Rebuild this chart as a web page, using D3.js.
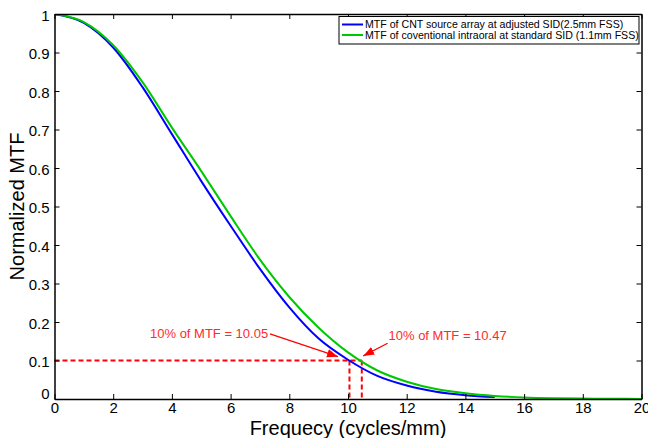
<!DOCTYPE html>
<html>
<head>
<meta charset="utf-8">
<script src="https://cdn.jsdelivr.net/npm/d3@7"></script>
<style>
  body { margin: 0; background: #fff; }
  svg { display: block; font-family: "Liberation Sans", Arial, sans-serif; }
</style>
</head>
<body>
<div id="chart"></div>
<script>
var width = 648, height = 438;
var margin = {left: 54.5, right: 6, top: 14, bottom: 39};

// frequency samples (cycles/mm)
var freqCNT = [0, 1, 2, 3, 4, 5, 6, 7, 8, 9, 10, 11, 12, 13, 14, 15];
var mtfCNT = [1.0, 0.977, 0.913, 0.81, 0.688, 0.566, 0.45, 0.338, 0.238, 0.157, 0.102, 0.06, 0.035, 0.019, 0.01, 0.005];

var freqConv = [0, 1, 2, 3, 4, 5, 6, 7, 8, 9, 10, 11, 12, 13, 14, 15, 16, 17, 18, 19, 20];
var mtfConv = [1.0, 0.979, 0.919, 0.823, 0.705, 0.592, 0.475, 0.362, 0.265, 0.185, 0.121, 0.074, 0.045, 0.026, 0.015, 0.008, 0.004, 0.002, 0.001, 0.0005, 0.0002];

var seriesNames = ["MTF of CNT source array at adjusted SID(2.5mm FSS)",
                   "MTF of coventional intraoral at standard SID (1.1mm FSS)"];
var seriesColors = ["#0000ff", "#00c800"];

var xTicks = [0, 2, 4, 6, 8, 10, 12, 14, 16, 18, 20];
var yTicks = [0, 0.1, 0.2, 0.3, 0.4, 0.5, 0.6, 0.7, 0.8, 0.9, 1];

// 10% crossing points
var crossFreq = [10.05, 10.47];
var crossLevel = 0.1;
var noteText = ["10% of MTF = 10.05", "10% of MTF = 10.47"];
// annotation arrows in data units: tail (x0,y0) -> tip (x1,y1), label anchor (tx,ty)
var noteArrows = [
    {x0: 7.34, y0: 0.169, x1: 9.66, y1: 0.110, tx: 7.28, ty: 0.171, anchor: "end"},
    {x0: 11.35, y0: 0.145, x1: 10.52, y1: 0.112, tx: 11.38, ty: 0.166, anchor: "start"}
];

var svg = d3.select("#chart").append("svg")
    .attr("width", width)
    .attr("height", height);

var x = d3.scaleLinear().domain([0, 20]).range([margin.left, width - margin.right - 0.5]);
var y = d3.scaleLinear().domain([0, 1]).range([height - margin.bottom, margin.top]);

svg.append("defs").append("clipPath").attr("id", "plotclip")
    .append("rect")
    .attr("x", x(0)).attr("y", y(1))
    .attr("width", x(20) - x(0)).attr("height", y(0) - y(1));

svg.append("defs").append("marker")
    .attr("id", "redhead")
    .attr("markerUnits", "userSpaceOnUse")
    .attr("markerWidth", 12).attr("markerHeight", 10)
    .attr("viewBox", "0 0 12 10")
    .attr("refX", 11).attr("refY", 5)
    .attr("orient", "auto")
    .append("path")
    .attr("d", "M0,0.8L11,5L0,9.2Z")
    .attr("fill", "#ff0000");

// dashed guide lines at 10% MTF
svg.append("line")
    .attr("x1", x(0)).attr("x2", x(crossFreq[1]))
    .attr("y1", y(crossLevel)).attr("y2", y(crossLevel))
    .attr("stroke", "#ff0000").attr("stroke-width", 2)
    .attr("stroke-dasharray", "5,3");
svg.selectAll(".vguide")
    .data(crossFreq)
    .enter().append("line")
    .attr("class", "vguide")
    .attr("x1", function (d) { return x(d); })
    .attr("x2", function (d) { return x(d); })
    .attr("y1", y(crossLevel)).attr("y2", y(0))
    .attr("stroke", "#ff0000").attr("stroke-width", 2)
    .attr("stroke-dasharray", "5,3");

var line = d3.line()
    .x(function (d) { return x(d[0]); })
    .y(function (d) { return y(d[1]); })
    .curve(d3.curveMonotoneX);

var curves = [
    d3.zip(freqCNT, mtfCNT),
    d3.zip(freqConv, mtfConv)
];

svg.append("g").attr("clip-path", "url(#plotclip)")
    .selectAll("path")
    .data(curves)
    .enter().append("path")
    .attr("d", line)
    .attr("fill", "none")
    .attr("stroke", function (d, i) { return seriesColors[i]; })
    .attr("stroke-width", 2);

// annotations
svg.selectAll(".arrow")
    .data(noteArrows)
    .enter().append("line")
    .attr("class", "arrow")
    .attr("x1", function (d) { return x(d.x0); })
    .attr("y1", function (d) { return y(d.y0); })
    .attr("x2", function (d) { return x(d.x1); })
    .attr("y2", function (d) { return y(d.y1); })
    .attr("stroke", "#ff0000").attr("stroke-width", 1.2)
    .attr("marker-end", "url(#redhead)");
svg.selectAll(".note")
    .data(noteArrows)
    .enter().append("text")
    .attr("class", "note")
    .attr("x", function (d) { return x(d.tx); })
    .attr("y", function (d) { return y(d.ty); })
    .attr("dy", "0.35em")
    .attr("text-anchor", function (d) { return d.anchor; })
    .style("font-size", "13px")
    .attr("fill", "#ff2a2a")
    .text(function (d, i) { return noteText[i]; });

// axes, MATLAB style box with inward ticks
var fmtY = function (d) { return d3.format("")(+d.toFixed(1)); };

var xAxis = svg.append("g")
    .attr("transform", "translate(0," + y(0) + ")")
    .call(d3.axisBottom(x).tickValues(xTicks).tickSizeInner(-5).tickSizeOuter(0).tickPadding(3));
var yAxis = svg.append("g")
    .attr("transform", "translate(" + x(0) + ",0)")
    .call(d3.axisLeft(y).tickValues(yTicks).tickSizeInner(-5).tickSizeOuter(0).tickPadding(5).tickFormat(fmtY));
var topAxis = svg.append("g")
    .attr("transform", "translate(0," + y(1) + ")")
    .call(d3.axisTop(x).tickValues(xTicks).tickSizeInner(-5).tickSizeOuter(0).tickFormat(""));
var rightAxis = svg.append("g")
    .attr("transform", "translate(" + x(20) + ",0)")
    .call(d3.axisRight(y).tickValues(yTicks).tickSizeInner(-5).tickSizeOuter(0).tickFormat(""));

[xAxis, yAxis, topAxis, rightAxis].forEach(function (g) {
    g.select(".domain").attr("stroke", "#000").attr("stroke-width", 1.5);
    g.selectAll(".tick line").attr("stroke", "#000").attr("stroke-width", 1);
    g.selectAll(".tick text")
        .attr("fill", "#000")
        .style("font-family", "'Liberation Sans', Arial, sans-serif")
        .style("font-size", "15px");
});
yAxis.selectAll(".tick text").attr("dy", function (d) { return d === 0 ? "-0.05em" : "0.4em"; });
xAxis.selectAll(".tick text").attr("dy", "0.71em");

// axis titles
svg.append("text")
    .attr("x", (x(0) + x(20)) / 2)
    .attr("y", height - 3)
    .attr("text-anchor", "middle")
    .style("font-size", "20px")
    .text("Frequecy (cycles/mm)");
svg.append("text")
    .attr("transform", "translate(24," + ((y(0) + y(1)) / 2) + ") rotate(-90)")
    .attr("text-anchor", "middle")
    .style("font-size", "20px")
    .text("Normalized MTF");

// legend
var legend = svg.append("g").attr("transform", "translate(339,16.5)");
legend.append("rect")
    .attr("width", 300).attr("height", 27.5)
    .attr("fill", "#fff").attr("stroke", "#000").attr("stroke-width", 1);
var items = legend.selectAll(".item")
    .data(seriesNames)
    .enter().append("g")
    .attr("class", "item")
    .attr("transform", function (d, i) { return "translate(0," + (8 + i * 10.5) + ")"; });
items.append("line")
    .attr("x1", 3).attr("x2", 24)
    .attr("stroke", function (d, i) { return seriesColors[i]; })
    .attr("stroke-width", 2);
items.append("text")
    .attr("x", 26).attr("dy", "0.36em")
    .style("font-size", "10.6px")
    .text(function (d) { return d; });
</script>
</body>
</html>
